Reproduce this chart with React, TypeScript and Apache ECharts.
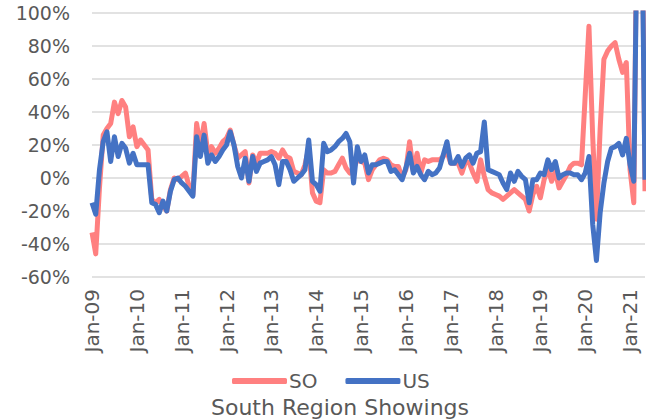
import React, { useEffect, useRef } from "react";
import * as echarts from "echarts";

const monthNames = ["Jan", "Feb", "Mar", "Apr", "May", "Jun", "Jul", "Aug", "Sep", "Oct", "Nov", "Dec"];
const startYear = 2009;
const monthCount = 149; // Jan-09 .. May-21

const categories: string[] = [];
for (let i = 0; i < monthCount; i++) {
  const y = startYear + Math.floor(i / 12);
  categories.push(monthNames[i % 12] + "-" + String(y % 100).padStart(2, "0"));
}

const soValues = [
  -33, -46, -6, 26, 30, 33, 46, 39, 47, 43, 25, 31,
  19, 23, 20, 17, -13, -15, -13, -17, -20, -7, 0, -1,
  1, 3, -5, -10, 33, 19, 33, 15, 19, 15, 18, 22,
  24, 29, 20, 12, 14, 16, -3, 14, 9, 15, 15, 15,
  16, 15, 12, 17, 13, 12, 4, 3, 2, 8, 18, -9,
  -14, -15, 5, 3, 3, 4, 8, 12, 6, 3, 6, 11,
  10, 9, -1, 5, 8, 11, 12, 11, 8, 7, 7, 0,
  5, 22, 4, 15, 3, 11, 10, 11, 11, 11, 13, 16,
  9, 9, 9, 3, 10, 9, 3, -2, 11, 1, -7, -9,
  -10, -11, -13, -11, -9, -7, -9, -11, -13, -20, -10, -5,
  -12, -1, 6, -2, 4, -6, -2, 2, 7, 9, 9, 8,
  50, 92, 25, -25, 30, 72, 77, 80, 82, 72, 64, 70,
  5, -15, 200, 220, -8,
];

const usValues = [
  -15, -22, 5, 22, 28, 10, 25, 13, 21, 18, 9, 15,
  8, 8, 8, 8, -15, -16, -21, -14, -20, -8, -1, 0,
  -3, -5, -8, -11, 25, 13, 26, 9, 14, 10, 13, 17,
  20, 28, 20, 7, 0, 12, -2, 13, 4, 9, 10, 11,
  13, 8, -4, 10, 10, 5, -2, 0, 2, 5, 23, -2,
  -4, -8, 21, 16, 17, 19, 22, 24, 27, 22, -3, 19,
  10, 14, 3, 8, 8, 9, 10, 10, 4, 5, 2, -1,
  6, 15, 3, 7, 2, -1, 4, 2, 3, 6, 14, 22,
  9, 9, 13, 7, 12, 14, 9, 15, 16, 34, 5, 4,
  3, 2, -3, -7, 3, -2, 4, 1, -1, -15, -1, -1,
  3, 2, 11, 5, 10, 0, 2, 3, 3, 2, 2, -1,
  3, 13, -28, -50, -21, -3, 10, 18, 19, 21, 14, 24,
  8, -2, 170, 190, -1,
];

const seriesNames = ["SO", "US"];
const seriesColors = ["#FF8080", "#4472C4"];
const yTicks = { min: -60, max: 100, interval: 20 };
const chartTitle = "South Region Showings";

const FONT = "DejaVu Sans";
const GRAY = "#595959";

export default function App() {
  const ref = useRef<HTMLDivElement>(null);
  useEffect(() => {
    if (!ref.current) return;
    const chart = echarts.init(ref.current, null, { renderer: "svg" });
    chart.setOption({
      animation: false,
      textStyle: { fontFamily: FONT },
      title: {
        text: chartTitle,
        left: 340,
        textAlign: "center",
        top: 396,
        padding: 0,
        textStyle: { fontFamily: FONT, fontSize: 22, lineHeight: 22, fontWeight: "normal", color: GRAY },
      },
      legend: {
        data: seriesNames,
        top: 371,
        left: 232,
        padding: 0,
        itemWidth: 55,
        itemHeight: 6,
        itemGap: 28,
        icon: "roundRect",
        textStyle: { fontFamily: FONT, fontSize: 20, lineHeight: 20, color: GRAY, padding: [0, 0, 0, -3] },
      },
      grid: { left: 92, right: 1, top: 13, bottom: 143, containLabel: false },
      xAxis: {
        type: "category",
        data: categories,
        boundaryGap: false,
        axisLine: { show: false, onZero: false },
        axisTick: { show: false },
        splitLine: { show: false },
        axisLabel: {
          interval: 11,
          rotate: 90,
          fontFamily: FONT,
          fontSize: 20,
          color: GRAY,
          margin: 12,
        },
      },
      yAxis: {
        type: "value",
        min: yTicks.min,
        max: yTicks.max,
        interval: yTicks.interval,
        axisLine: { show: false },
        axisTick: { show: false },
        splitLine: { lineStyle: { color: "#D9D9D9", width: 1.5 } },
        axisLabel: {
          formatter: (v: number) => v + "%",
          fontFamily: FONT,
          fontSize: 19,
          color: GRAY,
          margin: 22,
        },
      },
      series: [
        {
          name: seriesNames[0],
          type: "line",
          data: soValues,
          showSymbol: false,
          symbol: "none",
          color: seriesColors[0],
          lineStyle: { width: 5, color: seriesColors[0], join: "round" },
        },
        {
          name: seriesNames[1],
          type: "line",
          data: usValues,
          showSymbol: false,
          symbol: "none",
          color: seriesColors[1],
          lineStyle: { width: 5, color: seriesColors[1], join: "round" },
        },
      ],
    });
    return () => chart.dispose();
  }, []);
  return (
    <div
      ref={ref}
      style={{ position: "fixed", left: 0, top: 0, width: 646, height: 420, background: "#fff" }}
    />
  );
}
